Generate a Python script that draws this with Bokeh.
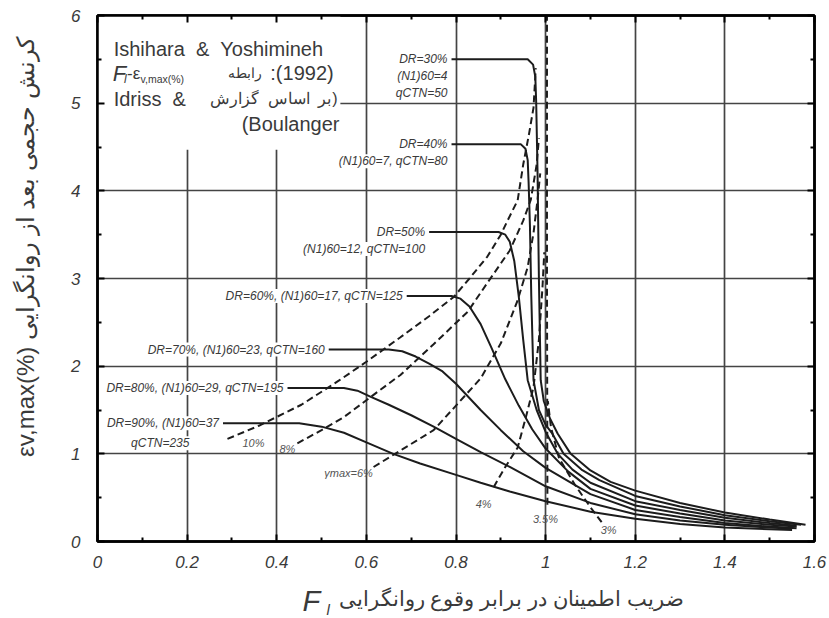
import math
from bokeh.plotting import figure
from bokeh.layouts import column, row
from bokeh.models import Range1d, LinearAxis, FixedTicker, Label, BoxAnnotation
from bokeh.embed import file_html
from bokeh.resources import INLINE

# ---------------- data ----------------
x_ticks = [0, 0.2, 0.4, 0.6, 0.8, 1.0, 1.2, 1.4, 1.6]
x_tick_labels = ["0", "0.2", "0.4", "0.6", "0.8", "1", "1.2", "1.4", "1.6"]
y_ticks = [0, 1, 2, 3, 4, 5, 6]
y_tick_labels = ["0", "1", "2", "3", "4", "5", "6"]

# solid curves: relative density Dr
dr30_x = [0.79, 0.96, 0.972, 0.977, 0.979, 0.982, 0.985, 0.989, 0.996, 1.01, 1.027, 1.056, 1.1, 1.145, 1.2, 1.3, 1.4, 1.5, 1.58]
dr30_y = [5.5, 5.5, 5.44, 5.3, 5.0, 4.2, 3.0, 1.84, 1.6, 1.4, 1.23, 1.0, 0.81, 0.68, 0.58, 0.44, 0.33, 0.25, 0.19]
dr40_x = [0.79, 0.945, 0.955, 0.96, 0.962, 0.965, 0.968, 0.973, 0.985, 1.0, 1.015, 1.04, 1.08, 1.12, 1.2, 1.3, 1.4, 1.5, 1.57]
dr40_y = [4.53, 4.53, 4.48, 4.35, 4.1, 3.6, 2.8, 1.84, 1.5, 1.33, 1.23, 1.0, 0.82, 0.7, 0.52, 0.4, 0.3, 0.23, 0.19]
dr50_x = [0.74, 0.895, 0.91, 0.92, 0.93, 0.94, 0.95, 0.96, 0.98, 1.0, 1.027, 1.06, 1.10, 1.2, 1.3, 1.4, 1.5, 1.56]
dr50_y = [3.53, 3.53, 3.5, 3.42, 3.2, 2.8, 2.3, 1.84, 1.5, 1.25, 1.0, 0.82, 0.67, 0.46, 0.36, 0.27, 0.21, 0.18]
dr60_x = [0.69, 0.79, 0.81, 0.83, 0.855, 0.88, 0.91, 0.94, 0.97, 1.0, 1.05, 1.1, 1.2, 1.3, 1.4, 1.5, 1.56]
dr60_y = [2.8, 2.8, 2.77, 2.68, 2.48, 2.2, 1.85, 1.55, 1.28, 1.06, 0.8, 0.6, 0.41, 0.32, 0.24, 0.19, 0.17]
dr70_x = [0.516, 0.65, 0.68, 0.71, 0.74, 0.77, 0.80, 0.855, 0.90, 0.95, 1.0, 1.1, 1.2, 1.3, 1.4, 1.5, 1.56]
dr70_y = [2.19, 2.19, 2.17, 2.11, 2.03, 1.94, 1.8, 1.5, 1.27, 1.03, 0.84, 0.54, 0.36, 0.28, 0.21, 0.17, 0.15]
dr80_x = [0.424, 0.55, 0.58, 0.61, 0.65, 0.70, 0.75, 0.80, 0.855, 0.92, 1.0, 1.1, 1.2, 1.3, 1.4, 1.5, 1.55]
dr80_y = [1.75, 1.75, 1.72, 1.65, 1.56, 1.44, 1.31, 1.17, 1.02, 0.85, 0.63, 0.44, 0.31, 0.24, 0.19, 0.16, 0.145]
dr90_x = [0.28, 0.45, 0.50, 0.55, 0.60, 0.66, 0.72, 0.80, 0.855, 0.92, 1.0, 1.1, 1.2, 1.3, 1.4, 1.5, 1.55]
dr90_y = [1.35, 1.35, 1.31, 1.24, 1.13, 1.0, 0.89, 0.76, 0.67, 0.57, 0.46, 0.34, 0.26, 0.2, 0.16, 0.14, 0.13]

dr_labels_1 = ["DR=30%", "DR=40%", "DR=50%", "DR=60%, (N1)60=17, qCTN=125",
               "DR=70%, (N1)60=23, qCTN=160", "DR=80%, (N1)60=29, qCTN=195", "DR=90%, (N1)60=37"]
dr_labels_2 = [["(N1)60=4", "qCTN=50"], ["(N1)60=7, qCTN=80"], ["(N1)60=12, qCTN=100"], [], [], [], []]

# dashed curves: maximum shear strain gamma_max
g10_x = [0.29, 0.36, 0.455, 0.54, 0.60, 0.676, 0.74, 0.795, 0.83, 0.87, 0.90, 0.915, 0.9375, 0.95, 0.963, 0.973, 0.978]
g10_y = [1.17, 1.32, 1.56, 1.84, 2.05, 2.33, 2.57, 2.79, 3.0, 3.25, 3.5, 3.66, 3.89, 4.3, 4.65, 4.95, 5.4]
g8_x = [0.446, 0.50, 0.55, 0.61, 0.676, 0.75, 0.826, 0.87, 0.92, 0.95, 0.967, 0.98, 0.985]
g8_y = [1.12, 1.27, 1.42, 1.65, 1.9, 2.25, 2.62, 2.95, 3.32, 3.66, 3.9, 4.3, 4.6]
g6_x = [0.616, 0.68, 0.75, 0.80, 0.855, 0.90, 0.9375, 0.96, 0.973, 0.982, 0.988]
g6_y = [0.85, 1.05, 1.27, 1.55, 1.86, 2.26, 2.75, 3.13, 3.52, 3.9, 4.2]
g4_x = [0.884, 0.91, 0.9375, 0.955, 0.973, 0.985, 0.993, 0.997]
g4_y = [0.62, 0.85, 1.07, 1.4, 1.76, 2.3, 2.9, 3.3]
g35_x = [1.004, 1.003, 1.003]
g35_y = [0.42, 3.0, 6.0]
g3_x = [1.125, 1.10, 1.065, 1.03, 1.012, 1.005]
g3_y = [0.22, 0.39, 0.65, 0.95, 1.3, 1.6]
gamma_labels = ["10%", "8%", "\u03b3max=6%", "4%", "3.5%", "3%"]

x_title = "\u0636\u0631\u06cc\u0628 \u0627\u0637\u0645\u06cc\u0646\u0627\u0646 \u062f\u0631 \u0628\u0631\u0627\u0628\u0631 \u0648\u0642\u0648\u0639 \u0631\u0648\u0627\u0646\u06af\u0631\u0627\u06cc\u06cc"
y_title = "\u03b5v,max(%) \u06a9\u0631\u0646\u0634 \u062d\u062c\u0645\u06cc \u0628\u0639\u062f \u0627\u0632 \u0631\u0648\u0627\u0646\u06af\u0631\u0627\u06cc\u06cc"
note_fa_1 = "\u0631\u0627\u0628\u0637\u0647"
note_fa_2 = "\u0628\u0631\u00a0\u00a0\u0627\u0633\u0627\u0633\u00a0\u00a0\u06af\u0632\u0627\u0631\u0634"

# ---------------- main figure ----------------
FONT = "Liberation Sans"
INK = "#1c1c1c"
TXT = "#3a3a3a"

p = figure(width=779, height=579, min_border_left=47, min_border_right=15,
           min_border_top=15, min_border_bottom=38,
           x_range=Range1d(0, 1.6), y_range=Range1d(0, 6),
           output_backend="svg", toolbar_location=None, tools="")
p.background_fill_color = "white"
p.border_fill_color = "white"
p.outline_line_color = "black"
p.outline_line_width = 2.5

def style_axis(ax, ticks, minor, labels, show_labels):
    ax.ticker = FixedTicker(ticks=ticks, minor_ticks=minor)
    ax.axis_line_color = "black"
    ax.axis_line_width = 2.5
    ax.major_tick_in = 7
    ax.major_tick_out = 0
    ax.minor_tick_in = 4
    ax.minor_tick_out = 0
    ax.major_tick_line_width = 2
    ax.minor_tick_line_width = 2
    ax.major_tick_line_color = "black"
    ax.minor_tick_line_color = "black"
    if show_labels:
        ax.major_label_overrides = {t: l for t, l in zip(ticks, labels)}
        ax.major_label_text_font = FONT
        ax.major_label_text_font_style = "italic"
        ax.major_label_text_font_size = "17px"
        ax.major_label_text_color = TXT
    else:
        ax.major_label_text_color = None
        ax.major_label_text_font_size = "1px"
        ax.major_label_standoff = 0

x_minor = [round(0.1 * i, 2) for i in range(1, 16, 2)]
y_minor = [0.5 + i for i in range(6)]

style_axis(p.xaxis[0], x_ticks, x_minor, x_tick_labels, True)
p.xaxis[0].major_label_standoff = 14
style_axis(p.yaxis[0], y_ticks, y_minor, y_tick_labels, True)
p.yaxis[0].major_label_standoff = 17

top_ax = LinearAxis()
style_axis(top_ax, x_ticks, x_minor, x_tick_labels, False)
p.add_layout(top_ax, "above")
right_ax = LinearAxis()
style_axis(right_ax, y_ticks, y_minor, y_tick_labels, False)
p.add_layout(right_ax, "right")

p.xgrid.ticker = FixedTicker(ticks=x_ticks)
p.ygrid.ticker = FixedTicker(ticks=y_ticks)
for g in (p.xgrid[0], p.ygrid[0]):
    g.grid_line_color = "#444444"
    g.grid_line_width = 1.7

# white area behind the reference note
p.add_layout(BoxAnnotation(left=0, right=0.542, bottom=4.47, top=6,
                           fill_color="white", fill_alpha=1.0, line_color=None,
                           level="glyph"))

# dashed gamma_max curves
gam = [(g10_x, g10_y), (g8_x, g8_y), (g6_x, g6_y), (g4_x, g4_y), (g35_x, g35_y), (g3_x, g3_y)]
for gx, gy in gam:
    p.line(gx, gy, line_color=INK, line_width=2, line_dash="7 4")

# solid Dr curves
drs = [(dr30_x, dr30_y), (dr40_x, dr40_y), (dr50_x, dr50_y), (dr60_x, dr60_y),
       (dr70_x, dr70_y), (dr80_x, dr80_y), (dr90_x, dr90_y)]
for dx, dy in drs:
    p.line(dx, dy, line_color=INK, line_width=2)

# Dr labels
def lab(**kw):
    base = dict(text_font=FONT, text_color=TXT, text_baseline="middle",
                background_fill_color="white", background_fill_alpha=1.0,
                text_font_size="12px", text_font_style="italic")
    base.update(kw)
    p.add_layout(Label(**base))

for (dx, dy), t1, t2 in zip(drs, dr_labels_1, dr_labels_2):
    lab(x=dx[0], y=dy[0], text=t1, text_align="right", x_offset=-4)
    for k, t in enumerate(t2):
        lab(x=dx[0], y=dy[0], text=t, text_align="right", x_offset=-4, y_offset=-17 * (k + 1))
lab(x=0.14, y=dr90_y[0], y_offset=-20, text="qCTN=235", text_align="center")

# gamma labels (pixel offsets from each dashed curve's lower end)
gpos = [(26, -4), (-10, -6), (-25, -6), (-10, -17), (-2, -14), (7, -8)]
for (gx, gy), (ox, oy), t in zip(gam, gpos, gamma_labels):
    p.add_layout(Label(x=gx[0], y=gy[0], x_offset=ox, y_offset=oy, text=t, text_align="center",
                       text_baseline="middle", text_font=FONT, text_font_style="italic",
                       text_font_size="11px", text_color="#555555"))

# reference note (top-left)
def note(fig, x, y, t, align="left", size="20px", style="normal", **kw):
    fig.add_layout(Label(x=x, y=y, text=t, text_align=align, text_baseline="middle",
                         text_font=FONT, text_font_size=size, text_font_style=style,
                         text_color=TXT, **kw))

note(p, 0.036, 5.62, "Ishihara\u00a0\u00a0&\u00a0\u00a0Yoshimineh")
note(p, 0.034, 5.34, "F", size="22px", style="italic")
note(p, 0.059, 5.27, "l", size="12px", style="italic")
note(p, 0.066, 5.34, "-\u03b5", size="17px")
note(p, 0.096, 5.27, "v,max(%)", size="10.5px")
note(p, 0.366, 5.34, note_fa_1, align="right", size="14px")
note(p, 0.527, 5.34, ":(1992)", align="right")
note(p, 0.036, 5.05, "Idriss\u00a0\u00a0&")
note(p, 0.522, 5.05, note_fa_2, align="right", size="16px")
note(p, 0.536, 5.05, ")", align="right", size="16px")
note(p, 0.54, 4.76, "(Boulanger", align="right")

# ---------------- title strips ----------------
def strip(w, h):
    f = figure(width=w, height=h, x_range=Range1d(0, w), y_range=Range1d(0, h),
               x_axis_type=None, y_axis_type=None, min_border=0,
               output_backend="svg", toolbar_location=None, tools="")
    f.outline_line_color = None
    f.background_fill_color = "white"
    f.border_fill_color = "white"
    f.grid.visible = False
    return f

yt = strip(50, 579)
note(yt, 25, 579 - 255, y_title, align="center", size="24px", angle=math.pi / 2)

xt = strip(829, 39)
note(xt, 302, 18, "F", size="29px", style="italic")
note(xt, 326, 9, "l", size="15px", style="italic")
note(xt, 338, 20, x_title, size="21px")

layout = column(row(yt, p, spacing=0), xt, spacing=0)
open("out.html", "w").write(file_html(layout, INLINE))
